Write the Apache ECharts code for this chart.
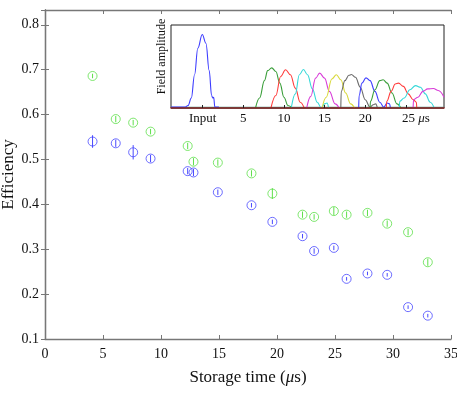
<!DOCTYPE html>
<html><head><meta charset="utf-8">
<script src="https://cdn.jsdelivr.net/npm/echarts@6/dist/echarts.min.js"></script>
<style>html,body{margin:0;padding:0;background:#fff}#c{width:457px;height:394px}</style>
</head><body><div id="c"></div>
<script>
// ---- main data ----
const storageTimes = [4.1,6.1,7.6,9.1,12.3,12.8,14.9,17.8,19.6,22.2,23.2,24.9,26.0,27.8,29.5,31.3,33.0];
const effGreen = [0.686,0.590,0.582,0.562,0.530,0.495,0.493,0.469,0.424,0.377,0.372,0.385,0.377,0.381,0.357,0.338,0.271];
const errGreen = [0.005,0.007,0.006,0.006,0.007,0.008,0.007,0.007,0.012,0.007,0.006,0.009,0.007,0.007,0.007,0.007,0.008];
const effBlue = [0.540,0.536,0.516,0.502,0.474,0.471,0.427,0.398,0.361,0.329,0.296,0.303,0.234,0.246,0.243,0.171,0.152];
const errBlue = [0.014,0.008,0.016,0.008,0.007,0.008,0.006,0.005,0.005,0.005,0.006,0.005,0.004,0.004,0.004,0.004,0.004];
const yTicks = [0.1,0.2,0.3,0.4,0.5,0.6,0.7,0.8];
const xTicks = [0,5,10,15,20,25,30,35];
// ---- inset data (time in us, field amplitude) ----
const insetTicks = [0,5,10,15,20,25];
const insetTickLabels = ['Input','5','10','15','20','25 μs'];
const pulseInput = [[-3.9,0.01],[-2.2,0.01],[-1.8,0.03],[-1.4,0.12],[-1.0,0.4],[-0.6,0.72],[-0.05,0.885],[0.4,0.78],[0.8,0.45],[1.1,0.15],[1.25,0.12],[1.35,0.13],[1.5,0.01],[2.0,0.01]];
const pulse1 = [[6.5,0],[7.0,0.12],[7.6,0.33],[8.0,0.45],[8.5,0.484],[9.0,0.44],[9.5,0.3],[10.0,0.13],[10.5,0.03],[11.0,0]];
const pulse2 = [[8.4,0],[9.0,0.15],[9.6,0.38],[10.2,0.46],[10.8,0.4],[11.4,0.24],[12.0,0.07],[12.5,0]];
const pulse3 = [[10.9,0],[11.4,0.17],[11.9,0.4],[12.4,0.464],[12.9,0.4],[13.5,0.23],[14.1,0.07],[14.6,0],[15.0,0.05],[15.3,0.06],[15.5,0]];
const pulse4 = [[12.8,0],[13.3,0.14],[13.9,0.36],[14.4,0.42],[15.0,0.36],[15.6,0.2],[16.3,0.05],[16.8,0]];
const pulse5 = [[14.7,0],[15.2,0.13],[15.9,0.35],[16.45,0.40],[17.0,0.34],[17.6,0.18],[18.2,0.05],[18.7,0]];
const pulse6 = [[17.0,0],[17.05,0.2],[17.5,0.33],[18.0,0.395],[18.3,0.403],[18.8,0.37],[19.4,0.25],[20.0,0.1],[20.6,0.01],[21.0,0.04],[21.3,0.05],[21.5,0]];
const pulse7 = [[19.2,0],[19.25,0.15],[19.6,0.3],[20.1,0.363],[20.6,0.33],[21.2,0.2],[21.8,0.07],[22.3,0.01],[22.7,0.06],[23.0,0.05],[23.1,0]];
const pulse8 = [[20.6,0],[20.65,0.08],[21.2,0.22],[21.8,0.33],[22.2,0.34],[22.7,0.3],[23.3,0.18],[23.9,0.05],[24.4,0]];
const pulse9 = [[22.6,0],[22.65,0.08],[23.2,0.2],[23.7,0.29],[24.1,0.30],[24.7,0.26],[25.3,0.17],[25.9,0.1],[26.3,0.07],[26.35,0]];
const pulse10 = [[24.2,0],[24.25,0.08],[24.8,0.12],[25.5,0.22],[26.2,0.27],[26.8,0.25],[27.4,0.17],[28.0,0.07],[28.5,0]];
const pulse11 = [[25.9,0],[25.95,0.1],[26.5,0.13],[27.1,0.2],[27.7,0.23],[28.4,0.235],[29.0,0.21],[29.7,0.13]];
const baseline = [[-3.9,0.004],[29.7,0.004]];

const pulses = [pulseInput,pulse1,pulse2,pulse3,pulse4,pulse5,pulse6,pulse7,pulse8,pulse9,pulse10,pulse11];
const pulseColors = ['#3d3dff','#3a9e3a','#ff3b3b','#35d8d8','#d83cd8','#d8d83a','#6a6a6a','#3d3dff','#3a9e3a','#ff3b3b','#35d8d8','#d83cd8'];

const GREEN = '#5ee04a', BLUE = '#4848ff';
const FONT = 'Liberation Serif';
const AX = '#777';

function pts(ys){ return storageTimes.map((x,i)=>[x, ys[i]]); }
function errs(ys, es){ return storageTimes.map((x,i)=>[x, ys[i]-es[i], ys[i]+es[i]]); }
function errSeries(data, color){
  return {type:'custom', xAxisIndex:0, yAxisIndex:0, data, z:3,
    renderItem:(params, api)=>{
      const a = api.coord([api.value(0), api.value(1)]);
      const b = api.coord([api.value(0), api.value(2)]);
      return {type:'line', shape:{x1:a[0],y1:a[1],x2:b[0],y2:b[1]}, style:{stroke:color, lineWidth:1}};
    }};
}
function scatter(data, color){
  return {type:'scatter', xAxisIndex:0, yAxisIndex:0, data, symbol:'circle', symbolSize:9, z:4,
    itemStyle:{color:'rgba(0,0,0,0)', borderColor:color, borderWidth:1}};
}
const yFmt = v => yTicks.some(t=>Math.abs(t-v)<1e-6) ? v.toFixed(1) : '';
const xFmt = v => xTicks.some(t=>Math.abs(t-v)<1e-6) ? String(v) : '';

const series = [
  errSeries(errs(effGreen, errGreen), GREEN),
  errSeries(errs(effBlue, errBlue), BLUE),
  scatter(pts(effGreen), GREEN),
  scatter(pts(effBlue), BLUE),
  {type:'line', xAxisIndex:2, yAxisIndex:2, data:baseline, symbol:'none', lineStyle:{color:'#4f9a8c', width:2}, z:20, silent:true}
];
pulses.forEach((p,i)=>series.push({type:'line', xAxisIndex:2, yAxisIndex:2, data:p, symbol:'none', smooth:0.4, smoothMonotone:'x',
  lineStyle:{color:pulseColors[i], width:1.1}, z:21, silent:true}));

const chart = echarts.init(document.getElementById('c'), null, {renderer:'canvas'});
chart.setOption({
  animation:false,
  textStyle:{fontFamily:FONT},
  grid:[
    {left:45, right:6, top:10, bottom:55, show:false, containLabel:false, outerBoundsMode:'none'},
    {left:171, top:25, width:273, height:83, show:true, backgroundColor:'#fff', borderColor:'#222', borderWidth:1, z:10, containLabel:false, outerBoundsMode:'none'}
  ],
  xAxis:[
    {type:'value', gridIndex:0, min:0, max:35, interval:5, position:'bottom',
     name:'Storage time ({i|μ}s)', nameLocation:'middle', nameGap:30, nameMoveOverlap:false,
     nameTextStyle:{fontFamily:FONT, fontSize:17, color:'#111', rich:{i:{fontFamily:FONT, fontSize:17, fontStyle:'italic', color:'#111'}}},
     axisLine:{lineStyle:{color:AX, width:1.3}}, axisTick:{inside:true, length:4, lineStyle:{color:AX}},
     axisLabel:{fontFamily:FONT, fontSize:14, color:'#111', margin:8, formatter:xFmt}, splitLine:{show:false}},
    {type:'value', gridIndex:0, min:0, max:35, interval:5, position:'top',
     axisLine:{lineStyle:{color:AX, width:1.3}}, axisTick:{inside:true, length:4, lineStyle:{color:AX}},
     axisLabel:{show:false}, splitLine:{show:false}},
    {type:'value', gridIndex:1, min:-3.9, max:29.7, position:'bottom', z:22,
     axisLine:{onZero:false, lineStyle:{color:'#8b1c1c', width:1.5}},
     axisTick:{inside:true, length:3, customValues:insetTicks, lineStyle:{color:'#222'}},
     axisLabel:{customValues:insetTicks, fontFamily:FONT, fontSize:13, color:'#111', margin:4,
       formatter:v=>{const i=insetTicks.indexOf(v); if(i<0) return ''; if(i===insetTicks.length-1){const s=insetTickLabels[i].split(' '); return '{u|'+s[0]+' }{m|'+s[1].charAt(0)+'}{n|'+s[1].slice(1)+'}';} return insetTickLabels[i];},
       rich:{u:{fontFamily:FONT, fontSize:13, color:'#111', padding:[0,0,0,20]},
             m:{fontFamily:FONT, fontSize:13, color:'#111', fontStyle:'italic'},
             n:{fontFamily:FONT, fontSize:13, color:'#111'}}},
     splitLine:{show:false}}
  ],
  yAxis:[
    {type:'value', gridIndex:0, min:0.1, max:0.833, interval:0.1, position:'left',
     name:'Efficiency', nameLocation:'middle', nameGap:28, nameMoveOverlap:false,
     nameTextStyle:{fontFamily:FONT, fontSize:17, color:'#111'},
     axisLine:{lineStyle:{color:AX, width:1.3}}, axisTick:{inside:true, length:4, lineStyle:{color:AX}},
     axisLabel:{fontFamily:FONT, fontSize:14, color:'#111', margin:6, formatter:yFmt}, splitLine:{show:false}},
    {type:'value', gridIndex:0, min:0.1, max:0.833, interval:0.1, position:'right',
     axisLine:{lineStyle:{color:AX, width:1.3}}, axisTick:{inside:true, length:4, lineStyle:{color:AX}},
     axisLabel:{show:false}, splitLine:{show:false}},
    {type:'value', gridIndex:1, min:0, max:1, position:'left', z:22,
     name:'Field amplitude', nameLocation:'middle', nameGap:3, nameMoveOverlap:false,
     nameTextStyle:{fontFamily:FONT, fontSize:12, color:'#111', padding:[0,0,0,20]},
     axisLine:{show:false}, axisTick:{show:false}, axisLabel:{show:false}, splitLine:{show:false}}
  ],
  series
});
</script></body></html>
